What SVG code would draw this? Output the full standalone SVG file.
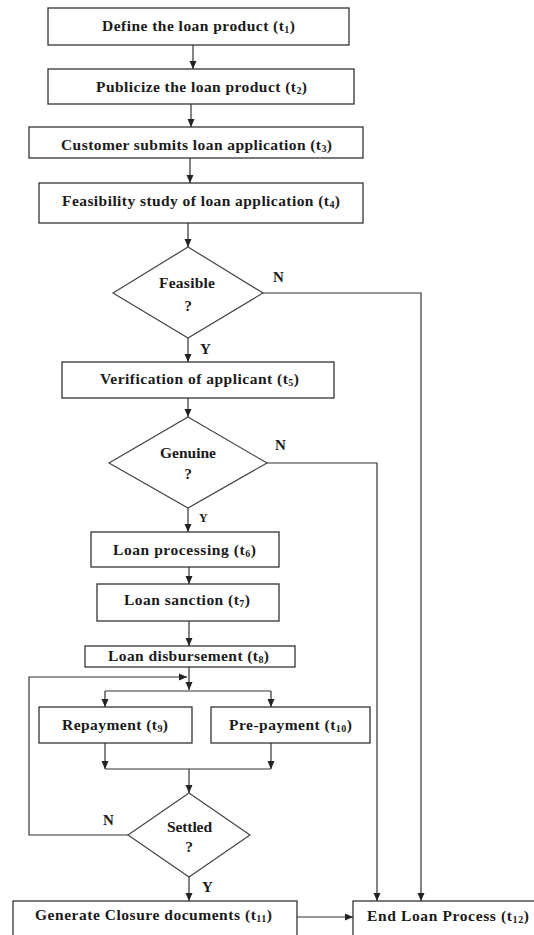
<svg xmlns="http://www.w3.org/2000/svg" width="534" height="935" viewBox="0 0 534 935">
<defs>
<style>
.box{fill:#fff;stroke:#333;stroke-width:1.3}
.dia{fill:#fff;stroke:#444;stroke-width:1.2}
.t{font-family:"Liberation Serif","Times New Roman",serif;font-weight:bold;font-size:15.5px;fill:#1a1a1a}
.c{text-anchor:middle}
.s{font-size:10px}
.lbl{font-family:"Liberation Serif","Times New Roman",serif;font-weight:bold;font-size:15px;fill:#1a1a1a}
.ln{fill:none;stroke:#333;stroke-width:1.2}
</style>
<marker id="ah" markerWidth="8" markerHeight="8" viewBox="0 0 8 8" refX="8" refY="4" orient="auto" markerUnits="userSpaceOnUse">
<path d="M0,0.5 L8,4 L0,7.5 Z" fill="#222"/>
</marker>
</defs>
<rect width="534" height="935" fill="#fff"/>

<g id="connectors">
<path class="ln" d="M193,45 V69" marker-end="url(#ah)"/>
<path class="ln" d="M191,104 V127" marker-end="url(#ah)"/>
<path class="ln" d="M190,158 V183" marker-end="url(#ah)"/>
<path class="ln" d="M188,223 V247" marker-end="url(#ah)"/>
<path class="ln" d="M188,338 V362" marker-end="url(#ah)"/>
<path class="ln" d="M263,293 H421 V901" marker-end="url(#ah)"/>
<path class="ln" d="M188,398 V417" marker-end="url(#ah)"/>
<path class="ln" d="M267,463 H377 V901" marker-end="url(#ah)"/>
<path class="ln" d="M188,508 V532" marker-end="url(#ah)"/>
<path class="ln" d="M189,567 V584" marker-end="url(#ah)"/>
<path class="ln" d="M189,621 V646" marker-end="url(#ah)"/>
<path class="ln" d="M189,667 V690" marker-end="url(#ah)"/>
<path class="ln" d="M105,691 H271"/>
<path class="ln" d="M105,691 V707" marker-end="url(#ah)"/>
<path class="ln" d="M271,691 V707" marker-end="url(#ah)"/>
<path class="ln" d="M105,743 V769" marker-end="url(#ah)"/>
<path class="ln" d="M271,743 V769" marker-end="url(#ah)"/>
<path class="ln" d="M105,769 H271"/>
<path class="ln" d="M189,769 V793" marker-end="url(#ah)"/>
<path class="ln" d="M128,835 H29 V677 H187" marker-end="url(#ah)"/>
<path class="ln" d="M189,877 V901" marker-end="url(#ah)"/>
<path class="ln" d="M297,917 H353" marker-end="url(#ah)"/>
<text class="lbl" x="273" y="282">N</text>
<text class="lbl" x="200" y="354">Y</text>
<text class="lbl" x="275" y="450">N</text>
<text class="lbl" x="199" y="522" style="font-size:12px">Y</text>
<text class="lbl" x="103" y="825">N</text>
<text class="lbl" x="202" y="892">Y</text>
</g>

<g id="t1"><rect class="box" x="48" y="8" width="301" height="37"/>
<text class="t" x="102" y="31" textLength="193" lengthAdjust="spacing">Define the loan product (t<tspan class="s" dy="2">1</tspan><tspan dy="-2">)</tspan></text></g>

<g id="t2"><rect class="box" x="48" y="69" width="306" height="35"/>
<text class="t" x="96" y="92" textLength="211" lengthAdjust="spacing">Publicize the loan product (t<tspan class="s" dy="2">2</tspan><tspan dy="-2">)</tspan></text></g>

<g id="t3"><rect class="box" x="29" y="127" width="334" height="31"/>
<text class="t" x="61" y="150" textLength="271" lengthAdjust="spacing">Customer submits loan application (t<tspan class="s" dy="2">3</tspan><tspan dy="-2">)</tspan></text></g>

<g id="t4"><rect class="box" x="39" y="183" width="324" height="40"/>
<text class="t" x="62" y="206" textLength="278" lengthAdjust="spacing">Feasibility study of loan application (t<tspan class="s" dy="2">4</tspan><tspan dy="-2">)</tspan></text></g>

<g id="feasible"><polygon class="dia" points="188,247 263,293 188,338 113,293"/>
<text class="t" x="159" y="288" textLength="56" lengthAdjust="spacing">Feasible</text>
<text class="t c" x="188" y="311">?</text></g>

<g id="t5"><rect class="box" x="62" y="362" width="272" height="36"/>
<text class="t" x="100" y="384" textLength="199" lengthAdjust="spacing">Verification of applicant (t<tspan class="s" dy="2">5</tspan><tspan dy="-2">)</tspan></text></g>

<g id="genuine"><polygon class="dia" points="188,417 267,463 188,508 109,463"/>
<text class="t" x="160" y="458" textLength="56" lengthAdjust="spacing">Genuine</text>
<text class="t c" x="188" y="479">?</text></g>

<g id="t6"><rect class="box" x="91" y="532" width="188" height="35"/>
<text class="t" x="113" y="555" textLength="143" lengthAdjust="spacing">Loan processing (t<tspan class="s" dy="2">6</tspan><tspan dy="-2">)</tspan></text></g>

<g id="t7"><rect class="box" x="97" y="584" width="182" height="37"/>
<text class="t" x="124" y="605" textLength="126" lengthAdjust="spacing">Loan sanction (t<tspan class="s" dy="2">7</tspan><tspan dy="-2">)</tspan></text></g>

<g id="t8"><rect class="box" x="85" y="646" width="210" height="21"/>
<text class="t" x="108" y="661" textLength="161" lengthAdjust="spacing">Loan disbursement (t<tspan class="s" dy="2">8</tspan><tspan dy="-2">)</tspan></text></g>

<g id="t9"><rect class="box" x="39" y="707" width="153" height="36"/>
<text class="t" x="62" y="730" textLength="106" lengthAdjust="spacing">Repayment (t<tspan class="s" dy="2">9</tspan><tspan dy="-2">)</tspan></text></g>

<g id="t10"><rect class="box" x="211" y="707" width="159" height="36"/>
<text class="t" x="229" y="730" textLength="123" lengthAdjust="spacing">Pre-payment (t<tspan class="s" dy="2">10</tspan><tspan dy="-2">)</tspan></text></g>

<g id="settled"><polygon class="dia" points="189,793 250,835 189,877 128,835"/>
<text class="t" x="167" y="832" textLength="45" lengthAdjust="spacing">Settled</text>
<text class="t c" x="189" y="852">?</text></g>

<g id="t11"><rect class="box" x="13" y="901" width="284" height="40"/>
<text class="t" x="35" y="920" textLength="237" lengthAdjust="spacing">Generate Closure documents (t<tspan class="s" dy="2">11</tspan><tspan dy="-2">)</tspan></text></g>

<g id="t12"><rect class="box" x="353" y="901" width="190" height="40"/>
<text class="t" x="367" y="921" textLength="162" lengthAdjust="spacing">End Loan Process (t<tspan class="s" dy="2">12</tspan><tspan dy="-2">)</tspan></text></g>
</svg>
